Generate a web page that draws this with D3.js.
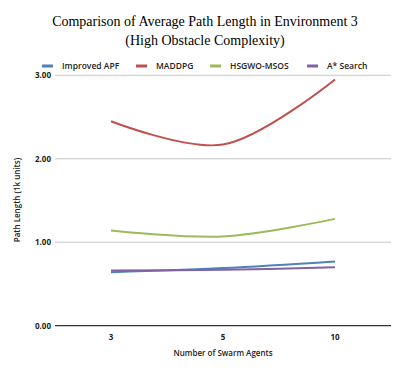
<!DOCTYPE html>
<html><head><meta charset="utf-8">
<script src="https://cdn.jsdelivr.net/npm/d3@7"></script>
<style>body{margin:0;background:#fff}svg{display:block}
.ttl{font-family:'Liberation Serif','Times New Roman',serif;font-size:14px;}
</style>
</head><body><svg id="c" width="402" height="392"></svg>
<script>
(function(){
const categories = ["3", "5", "10"];
const seriesNames = ["Improved APF", "MADDPG", "HSGWO-MSOS", "A* Search"];
const improvedAPF = [0.64, 0.69, 0.77];
const maddpg = [2.45, 2.17, 2.95];
const hsgwo = [1.14, 1.07, 1.28];
const aStar = [0.66, 0.67, 0.70];
const colors = ["#4F81BD", "#C0504D", "#9BBB59", "#8064A2"];
const yTicks = [0, 1, 2, 3];

const series = [improvedAPF, maddpg, hsgwo, aStar];
const svg = d3.select("#c");
const pLeft = 55, pRight = 391, pTop = 75.3, pBottom = 325.7;
const x = d3.scaleBand().domain(categories).range([pLeft, pRight]);
const y = d3.scaleLinear().domain([0, 3]).range([pBottom, pTop]);

svg.append("text").attr("class", "ttl").attr("x", 205).attr("y", 26).attr("text-anchor", "middle")
  .text("Comparison of Average Path Length in Environment 3");
svg.append("text").attr("class", "ttl").attr("x", 205).attr("y", 45).attr("text-anchor", "middle")
  .text("(High Obstacle Complexity)");

const g = svg.append("g");
g.selectAll(".grid").data(yTicks.filter(d => d > 0)).join("line")
  .attr("x1", pLeft).attr("x2", pRight).attr("y1", d => y(d)).attr("y2", d => y(d))
  .attr("stroke", "#c8c8c8").attr("stroke-width", 1);
g.append("line").attr("x1", pLeft).attr("x2", pRight).attr("y1", y(0)).attr("y2", y(0))
  .attr("stroke", "#333").attr("stroke-width", 1.2);

const font = "'Open Sans', 'Liberation Sans', sans-serif";
const yAxis = svg.append("g").attr("transform", `translate(${pLeft},0)`)
  .call(d3.axisLeft(y).tickValues(yTicks).tickFormat(d3.format(".2f")).tickSize(0).tickPadding(4));
yAxis.select(".domain").remove();
yAxis.selectAll("text").attr("font-family", font).attr("font-size", 8).attr("font-weight", "bold").attr("fill", "#222");

const xAxis = svg.append("g").attr("transform", `translate(0,${pBottom})`)
  .call(d3.axisBottom(x).tickSize(0).tickPadding(9));
xAxis.select(".domain").remove();
xAxis.selectAll("text").attr("font-family", font).attr("font-size", 8).attr("font-weight", "bold").attr("fill", "#222");

svg.append("text").attr("x", 223).attr("y", 356).attr("text-anchor", "middle")
  .attr("font-family", font).attr("font-size", 8).attr("font-weight", "600").attr("fill", "#222")
  .text("Number of Swarm Agents");
svg.append("text").attr("transform", "translate(20,200) rotate(-90)").attr("text-anchor", "middle")
  .attr("font-family", font).attr("font-size", 8).attr("font-weight", "600").attr("fill", "#222")
  .text("Path Length (1k units)");

const line = d3.line().x((d, i) => x(categories[i]) + x.bandwidth() / 2).y(d => y(d))
  .curve(d3.curveCatmullRom.alpha(0.5));
series.forEach((s, k) => {
  svg.append("path").attr("d", line(s)).attr("fill", "none")
    .attr("stroke", colors[k]).attr("stroke-width", 2);
});

const legX = [42, 136, 210, 307];
seriesNames.forEach((n, k) => {
  svg.append("rect").attr("x", legX[k]).attr("y", 64.5).attr("width", 11).attr("height", 3).attr("fill", colors[k]);
  svg.append("text").attr("x", legX[k] + 20).attr("y", 69).attr("font-family", font)
    .attr("font-size", 8.5).attr("font-weight", "600").attr("fill", "#222").text(n);
});
})();
</script></body></html>
